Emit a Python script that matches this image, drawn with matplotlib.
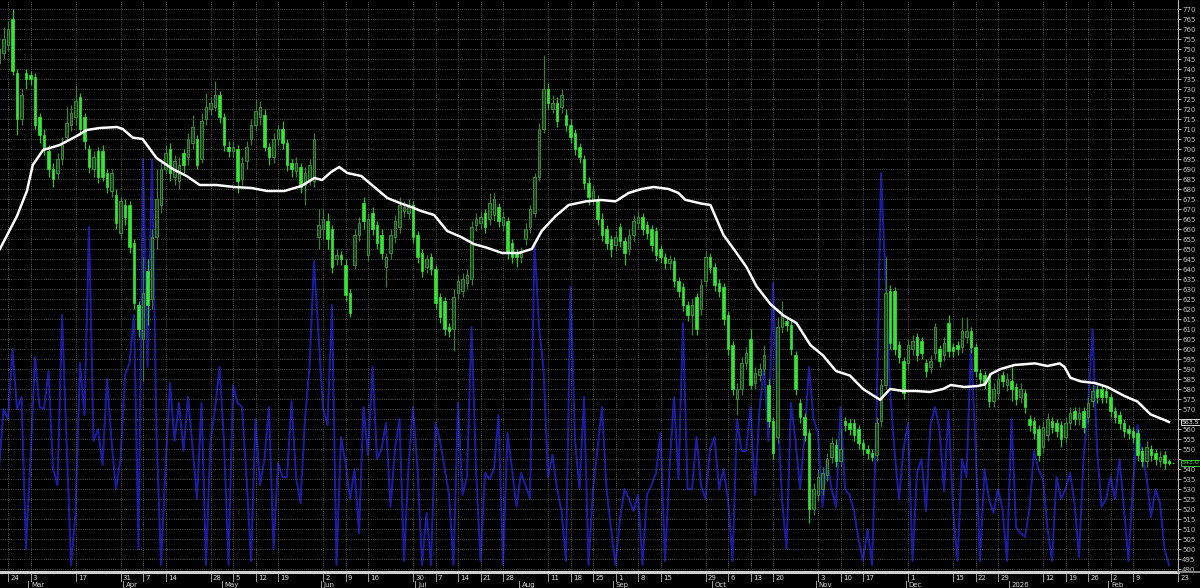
import matplotlib
matplotlib.use("Agg")
import matplotlib.pyplot as plt
import matplotlib.transforms as mtransforms
from matplotlib.lines import Line2D
import numpy as np
import pandas as pd

# daily bars, first bar 2025-02-20 (trading-day index 0)
opens = [
    743, 748, 752, 765, 738, 715, 738, 737, 736, 716,
    707, 699, 690, 688, 695, 706, 712, 716, 726, 716,
    700, 690, 699, 699, 688, 679, 677, 658, 672, 672,
    653, 622, 605, 639, 625, 656, 672, 690, 700, 686,
    684, 698, 696, 703, 705, 695, 715, 720, 721, 727,
    716, 701, 699, 700, 685, 694, 705, 712, 716, 717,
    701, 696, 705, 710, 703, 693, 689, 691, 682, 685,
    684, 656, 660, 664, 660, 645, 647, 642, 628, 642,
    657, 673, 647, 668, 662, 657, 641, 648, 656, 661,
    669, 668, 672, 657, 648, 641, 646, 640, 626, 624,
    611, 610, 628, 629, 633, 635, 662, 663, 668, 665,
    667, 671, 662, 664, 653, 648, 646, 655, 661, 668,
    686, 710, 730, 720, 723, 721, 717, 712, 708, 701,
    695, 683, 675, 674, 665, 660, 655, 652, 661, 654,
    650, 657, 663, 666, 662, 660, 659, 650, 646, 643,
    644, 634, 631, 622, 617, 626, 620, 634, 646, 641,
    633, 631, 617, 602, 575, 580, 593, 605, 583, 587,
    590, 582, 564, 556, 611, 614, 612, 597, 573, 566,
    558, 520, 527, 530, 537, 546, 552, 544, 564, 563,
    563, 560, 553, 550, 548, 547, 564, 582, 629, 629,
    602, 594, 593, 600, 606, 604, 593, 591, 598, 600,
    597, 613, 601, 602, 601, 606, 609, 601, 588, 587,
    586, 574, 578, 587, 582, 584, 581, 576, 578, 565,
    564, 560, 551, 557, 564, 563, 562, 556, 563, 569,
    565, 569, 566, 574, 580, 580, 579, 576, 569, 567,
    563, 560, 559, 558, 549, 544, 550, 548, 544, 547,
    544]
closes = [
    750, 755, 760, 739, 715, 727, 735, 735, 712, 707,
    700, 690, 685, 695, 702, 713, 718, 724, 710, 704,
    691, 696, 686, 686, 681, 688, 663, 674, 666, 651,
    623, 610, 628, 622, 656, 675, 690, 698, 688, 694,
    692, 692, 705, 711, 692, 714, 721, 723, 727, 716,
    702, 699, 701, 684, 693, 701, 712, 719, 721, 701,
    696, 705, 710, 703, 692, 690, 693, 681, 688, 692,
    705, 662, 665, 655, 641, 647, 645, 627, 618, 657,
    663, 664, 665, 660, 653, 648, 646, 657, 664, 672,
    671, 671, 656, 646, 639, 645, 640, 623, 616, 610,
    609, 626, 634, 635, 637, 661, 665, 666, 661, 673,
    675, 664, 666, 648, 646, 646, 648, 660, 670, 686,
    710, 730, 723, 723, 714, 727, 712, 706, 700, 696,
    683, 676, 679, 665, 657, 653, 650, 656, 654, 648,
    657, 664, 666, 660, 658, 652, 647, 646, 643, 645,
    634, 629, 622, 617, 622, 610, 632, 646, 641, 632,
    629, 615, 600, 580, 580, 593, 598, 582, 588, 590,
    597, 564, 548, 611, 617, 612, 600, 580, 566, 557,
    520, 530, 536, 538, 545, 553, 544, 550, 562, 560,
    557, 553, 550, 548, 546, 563, 582, 628, 603, 600,
    596, 578, 602, 604, 597, 598, 589, 594, 611, 594,
    603, 599, 599, 600, 609, 609, 601, 589, 585, 583,
    574, 580, 585, 584, 585, 580, 575, 580, 571, 562,
    558, 547, 561, 565, 561, 559, 555, 563, 568, 565,
    568, 561, 573, 579, 576, 576, 576, 569, 566, 563,
    559, 558, 556, 547, 544, 551, 547, 545, 546, 543,
    543]
highs = [
    756, 761, 764, 770, 740, 730, 740, 739, 738, 718,
    710, 702, 693, 698, 706, 721, 722, 732, 728, 718,
    702, 699, 701, 702, 690, 690, 680, 676, 675, 674,
    655, 624, 646, 645, 660, 690, 694, 702, 703, 697,
    696, 700, 708, 717, 707, 718, 728, 726, 734, 729,
    718, 704, 704, 702, 696, 704, 715, 725, 724, 720,
    703, 708, 712, 714, 705, 695, 696, 693, 691, 695,
    708, 670, 670, 668, 662, 650, 649, 645, 630, 660,
    666, 676, 668, 671, 664, 660, 648, 660, 667, 676,
    674, 675, 674, 659, 650, 647, 648, 642, 628, 626,
    613, 630, 637, 638, 640, 664, 668, 669, 670, 678,
    678, 673, 669, 666, 655, 650, 651, 663, 672, 688,
    713, 747, 733, 727, 726, 730, 720, 715, 710, 703,
    697, 686, 682, 677, 668, 662, 657, 659, 663, 656,
    660, 667, 669, 668, 664, 662, 661, 652, 648, 647,
    646, 636, 633, 624, 625, 628, 635, 649, 648, 643,
    635, 633, 619, 604, 583, 596, 601, 610, 591, 593,
    602, 585, 566, 616, 624, 616, 614, 599, 575, 568,
    560, 533, 540, 541, 548, 556, 555, 560, 566, 565,
    565, 562, 555, 552, 550, 566, 585, 646, 632, 631,
    604, 596, 605, 607, 608, 606, 595, 597, 613, 602,
    606, 617, 603, 604, 616, 616, 611, 603, 590, 589,
    588, 583, 588, 589, 588, 591, 583, 583, 580, 567,
    566, 562, 564, 568, 566, 565, 564, 566, 571, 571,
    571, 571, 576, 582, 582, 582, 581, 578, 571, 569,
    565, 562, 561, 560, 551, 554, 552, 550, 549, 549,
    545]
lows = [
    740, 745, 749, 737, 707, 712, 730, 732, 710, 703,
    697, 686, 681, 685, 692, 704, 709, 712, 707, 700,
    688, 686, 683, 684, 678, 676, 660, 655, 662, 648,
    620, 606, 584, 612, 620, 650, 668, 688, 684, 682,
    680, 688, 692, 700, 690, 693, 712, 717, 719, 713,
    699, 696, 696, 678, 682, 690, 702, 709, 712, 699,
    692, 693, 702, 700, 689, 686, 686, 678, 672, 682,
    681, 650, 655, 650, 638, 642, 642, 624, 616, 640,
    654, 660, 644, 657, 650, 645, 631, 645, 653, 658,
    666, 665, 653, 643, 636, 638, 637, 620, 613, 607,
    606, 599, 625, 626, 630, 632, 659, 660, 658, 662,
    664, 661, 659, 645, 643, 641, 643, 652, 658, 666,
    684, 708, 720, 718, 711, 718, 709, 703, 697, 693,
    680, 672, 672, 662, 654, 650, 646, 649, 651, 642,
    647, 654, 660, 657, 655, 649, 644, 643, 640, 640,
    631, 626, 619, 614, 607, 607, 617, 631, 638, 629,
    626, 612, 597, 577, 567, 577, 590, 580, 580, 584,
    587, 561, 545, 553, 608, 609, 597, 577, 563, 554,
    513, 517, 524, 527, 534, 543, 541, 541, 559, 557,
    554, 550, 547, 545, 544, 544, 561, 580, 600, 597,
    593, 575, 590, 597, 594, 595, 586, 588, 595, 591,
    594, 596, 596, 597, 598, 603, 598, 586, 582, 580,
    571, 571, 575, 581, 579, 574, 572, 573, 568, 559,
    555, 544, 548, 554, 558, 556, 551, 553, 560, 562,
    562, 558, 563, 571, 573, 573, 573, 566, 563, 560,
    556, 555, 553, 544, 541, 541, 544, 542, 541, 540,
    542]
volume = [
    50, 80, 75, 110, 80, 86, 10, 55, 106, 81,
    80, 99, 50, 42, 127, 64, 2, 28, 103, 77,
    171, 64, 70, 52, 95, 64, 40, 55, 97, 103,
    127, 10, 205, 101, 205, 68, 2, 51, 93, 64,
    83, 59, 86, 61, 35, 83, 2, 64, 80, 101,
    64, 2, 92, 83, 81, 46, 4, 75, 42, 55,
    81, 10, 53, 46, 46, 84, 46, 33, 75, 101,
    154, 117, 80, 72, 132, 2, 66, 53, 35, 50,
    18, 81, 57, 101, 55, 60, 73, 31, 60, 75,
    4, 51, 81, 50, 2, 28, 2, 73, 64, 51,
    37, 2, 83, 37, 46, 121, 50, 4, 48, 45,
    50, 77, 2, 68, 50, 31, 48, 42, 35, 163,
    121, 100, 46, 57, 40, 29, 4, 141, 64, 40,
    86, 2, 40, 60, 81, 40, 20, 2, 25, 40,
    35, 29, 37, 2, 37, 42, 48, 68, 4, 50,
    86, 45, 123, 40, 40, 66, 42, 35, 60, 66,
    40, 50, 35, 4, 75, 59, 59, 81, 37, 80,
    101, 64, 143, 80, 35, 10, 83, 64, 40, 66,
    101, 75, 68, 31, 55, 40, 31, 81, 40, 37,
    29, 15, 4, 20, 2, 75, 198, 145, 90, 59,
    35, 60, 73, 4, 48, 55, 29, 72, 81, 70,
    39, 79, 30, 4, 55, 46, 112, 62, 4, 50,
    35, 28, 40, 30, 4, 75, 21, 18, 16, 30,
    59, 50, 45, 20, 4, 46, 35, 40, 48, 33,
    6, 55, 81, 120, 60, 31, 35, 46, 35, 55,
    30, 4, 42, 72, 57, 46, 26, 40, 33, 10,
    2]

# moving average (bar index, value)
ma_pos = [0.2, 4.0, 6.2, 7.5, 9.8, 13.5, 17.3, 19.5, 22.4, 26.2, 27.5, 29.7,
          31.9, 35.0, 38.6, 41.7, 44.6, 48.3, 52.3, 56.1, 59.6, 63.4, 67.2,
          70.1, 71.8, 73.8, 75.6, 77.4, 80.5, 83.4, 86.3, 89.4, 91.6, 93.8,
          96.7, 99.6, 102.7, 105.5, 108.2, 111.8, 115.5, 118.4, 120.6, 123.7,
          126.6, 130.4, 133.9, 137.0, 139.9, 142.8, 145.5, 148.8, 151.0, 152.5,
          156.1, 158.1, 161.0, 163.9, 166.1, 168.3, 171.4, 174.3, 177.2, 180.3,
          183.1, 186.0, 189.1, 192.0, 195.8, 198.0, 200.9, 203.8, 206.9, 209.8,
          211.5, 214.6, 217.5, 219.1, 220.4, 222.6, 225.7, 230.2, 233.0, 235.7,
          236.8, 238.1, 240.4, 243.5, 246.3, 250.1, 253.0, 255.9, 259.0, 260.0]
ma_val = [650, 666.5, 679, 692, 699.5, 702, 706.5, 709.5, 710.5, 711, 710, 705.7,
          705, 695.5, 690, 686.5, 682, 682, 681, 680.5, 679, 679, 681.5,
          685.5, 684.5, 688.5, 691, 688, 686.5, 681, 675.5, 672.7, 671, 669,
          667, 659, 656, 652.5, 650.8, 648, 648, 650, 659, 666.5,
          672, 673.8, 674.5, 673.8, 678, 680, 681, 680, 678, 674.6,
          672.7, 672, 657, 648, 641, 631.5, 622.5, 616.8, 613, 602,
          596.8, 589, 586.7, 580, 574.6, 580, 579, 579, 578.5, 580,
          582, 581, 581.5, 582.3, 587.5, 590, 592, 592.8, 591.5, 592.8,
          591, 585.6, 583.8, 583, 581, 576.5, 573.7, 567.3, 564.5, 563.5]

day_ticks = ["2025-02-24", "2025-03-03", "2025-03-17", "2025-03-31", "2025-04-07",
             "2025-04-14", "2025-04-28", "2025-05-05", "2025-05-12", "2025-05-19",
             "2025-06-02", "2025-06-09", "2025-06-16", "2025-06-30", "2025-07-07",
             "2025-07-14", "2025-07-21", "2025-07-28", "2025-08-11", "2025-08-18",
             "2025-08-25", "2025-09-01", "2025-09-08", "2025-09-15", "2025-09-29",
             "2025-10-06", "2025-10-13", "2025-10-20", "2025-11-03", "2025-11-10",
             "2025-11-17", "2025-12-01", "2025-12-15", "2025-12-22", "2025-12-29",
             "2026-01-12", "2026-01-19", "2026-01-26", "2026-02-02", "2026-02-09",
             "2026-02-23"]
month_starts = ["2025-03-03", "2025-04-01", "2025-05-01", "2025-06-02", "2025-07-01",
                "2025-08-01", "2025-09-01", "2025-10-01", "2025-11-03", "2025-12-01",
                "2026-01-01", "2026-02-02"]
month_names = ["Mar", "Apr", "May", "Jun", "Jul", "Aug", "Sep", "Oct", "Nov", "Dec",
               "2026", "Feb"]
price_ticks = list(range(490, 775, 5))

cal = pd.bdate_range("2025-02-20", "2026-02-27")
n = len(closes)
idx = np.arange(n)
o = np.array(opens, float)
c = np.array(closes, float)
h = np.array(highs, float)
l = np.array(lows, float)
up = c >= o

W, H = 1200, 588
fig = plt.figure(figsize=(W / 100, H / 100), dpi=100, facecolor="black")
rect = [0, 16 / H, 1178 / W, 572 / H]

# volume line sits in its own axes underneath the price axes
axv = fig.add_axes(rect, facecolor="black")
ax = fig.add_axes(rect, sharex=axv)
ax.patch.set_visible(False)
axv.set_axis_off()
axv.set_ylim(-1.5, 284.5)
axv.plot(idx, volume, color="#1b1b9e", lw=1.5, solid_joinstyle="round")

xmin, xmax = 0.22, 261.4
ax.set_xlim(xmin, xmax)
ax.set_ylim(488.5, 774.5)

# grid
ax.set_yticks(price_ticks)
ma_last, c_last = ma_val[-1], closes[-1]
ax.set_yticklabels(["" if abs(t - ma_last) < 3 or abs(t - c_last) < 3 else str(t)
                    for t in price_ticks])
tick_pos = [cal.get_loc(pd.Timestamp(d)) for d in day_ticks]
ax.set_xticks(tick_pos)
ax.tick_params(axis="x", length=0, labelbottom=False)
ax.grid(True, color="#6a6a6a", linestyle=(0, (1, 1.6)), linewidth=0.6)

# candles
col_dn, col_up = "#35e635", "#3d8a3d"
ax.vlines(idx[up], l[up], h[up], color="#3f7d3f", lw=0.9, zorder=3)
ax.vlines(idx[~up], l[~up], h[~up], color="#2fc02f", lw=0.9, zorder=3)
body_lo = np.minimum(o, c)
body_h = np.maximum(np.abs(c - o), 0.8)
ax.bar(idx[up], body_h[up], bottom=body_lo[up], width=0.62,
       facecolor="#1c481c", edgecolor=col_up, linewidth=0.7, zorder=4)
ax.bar(idx[~up], body_h[~up], bottom=body_lo[~up], width=0.62,
       facecolor=col_dn, edgecolor=col_dn, linewidth=0.5, zorder=4)

# moving average
ax.plot(ma_pos, ma_val, color="white", lw=1.8, zorder=5)

# last price line
ax.hlines(c_last, n - 1, xmax, color="#35e635", lw=0.8,
          linestyle=(0, (1.5, 1.5)), zorder=5)

# right axis
for s in ["top", "left", "bottom"]:
    ax.spines[s].set_visible(False)
ax.spines["right"].set_color("#b8b8b8")
ax.spines["right"].set_linewidth(0.8)
ax.yaxis.tick_right()
ax.tick_params(axis="y", labelsize=5, colors="#c8c8c8", length=2, width=0.6, pad=1)

tr_r = mtransforms.blended_transform_factory(ax.transAxes, ax.transData)
ax.text(1.003, ma_last, "%.1f" % ma_last, transform=tr_r, fontsize=4.5,
        color="white", va="center", ha="left", clip_on=False, zorder=10,
        bbox=dict(boxstyle="square,pad=0.1", fc="black", ec="white", lw=0.6))
ax.text(1.003, c_last, "%.1f" % c_last, transform=tr_r, fontsize=4.5,
        color="#35e635", va="center", ha="left", clip_on=False, zorder=10,
        bbox=dict(boxstyle="square,pad=0.1", fc="black", ec="#35e635", lw=0.6))

# bottom date strip
tr_b = mtransforms.blended_transform_factory(ax.transData, fig.transFigure)
fig.add_artist(Line2D([0, 1178 / W], [1 - 572 / H] * 2, transform=fig.transFigure,
                      color="#cfcfcf", lw=2.2))
fig.add_artist(Line2D([1178 / W, 1], [1 - 572 / H] * 2, transform=fig.transFigure,
                      color="#9a9a9a", lw=1.2))
for d, p in zip(day_ticks, tick_pos):
    fig.add_artist(Line2D([p, p], [1 - 574 / H, 1 - 581 / H], transform=tr_b,
                          color="#a0a0a0", lw=0.7))
    fig.text(p + 0.5, 1 - 577.5 / H, str(pd.Timestamp(d).day), transform=tr_b,
             fontsize=5, color="#d8d8d8", ha="left", va="center")
for d, name in zip(month_starts, month_names):
    p = cal.get_loc(pd.Timestamp(d)) - 0.5
    fig.add_artist(Line2D([p, p], [1 - 581 / H, 1 - 588 / H], transform=tr_b,
                          color="#a0a0a0", lw=0.7))
    fig.text(p + 0.6, 1 - 585 / H, name, transform=tr_b,
             fontsize=5, color="#d8d8d8", ha="left", va="center")

fig.savefig("out.png", dpi=100, facecolor="black")
